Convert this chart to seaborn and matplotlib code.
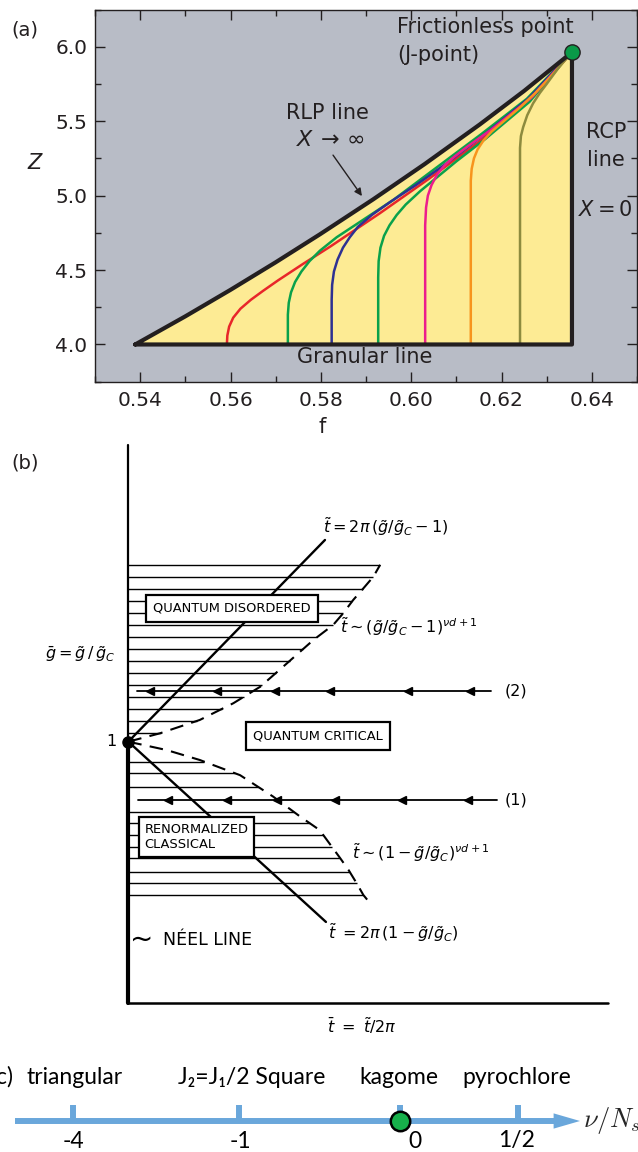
import numpy as np
import pandas as pd
import matplotlib
matplotlib.use("Agg")
import matplotlib.pyplot as plt
from matplotlib.ticker import MultipleLocator, FormatStrFormatter
import seaborn as sns

sns.set_style("ticks")
plt.rcParams['font.family'] = ['DejaVu Sans']
plt.rcParams['mathtext.fontset'] = 'dejavusans'

W, H = 638, 1152
fig = plt.figure(figsize=(W / 100, H / 100), dpi=100)


def fx(x):
    return x / W


def fy(y):
    return 1 - y / H


# ---------------- panel (a): jamming phase diagram ----------------
rlp_f = [0.5389, 0.5500, 0.5600, 0.5700, 0.5798, 0.5916, 0.6030, 0.6152, 0.6250, 0.6356]
rlp_z = [4.000, 4.189, 4.367, 4.552, 4.740, 4.975, 5.212, 5.478, 5.703, 5.963]
granular_z = 4.0
rcp_f = 0.6356
j_point_f = [0.6356]
j_point_z = [5.963]

red_f = [0.5592, 0.5593, 0.5597, 0.5606, 0.5622, 0.5645, 0.5672, 0.5705, 0.5760, 0.5822, 0.5930, 0.6038, 0.6150, 0.6253, 0.6354]
red_z = [4.00, 4.06, 4.12, 4.18, 4.24, 4.30, 4.36, 4.43, 4.54, 4.66, 4.88, 5.11, 5.36, 5.62, 5.958]
green_f = [0.5727, 0.5727, 0.5729, 0.5734, 0.5743, 0.5757, 0.5775, 0.5798, 0.5835, 0.5890, 0.5960, 0.6048, 0.6154, 0.6256, 0.6354]
green_z = [4.00, 4.20, 4.28, 4.35, 4.42, 4.49, 4.56, 4.63, 4.72, 4.83, 4.97, 5.17, 5.41, 5.65, 5.958]
blue_f = [0.5824, 0.5824, 0.5825, 0.5829, 0.5837, 0.5849, 0.5864, 0.5882, 0.5913, 0.5955, 0.6010, 0.6080, 0.6158, 0.6259, 0.6354]
blue_z = [4.00, 4.30, 4.40, 4.49, 4.57, 4.65, 4.72, 4.79, 4.87, 4.96, 5.07, 5.22, 5.40, 5.65, 5.958]
green2_f = [0.5927, 0.5927, 0.5928, 0.5932, 0.5940, 0.5952, 0.5968, 0.5988, 0.6020, 0.6060, 0.6100, 0.6164, 0.6262, 0.6354]
green2_z = [4.00, 4.45, 4.56, 4.65, 4.73, 4.80, 4.87, 4.94, 5.03, 5.13, 5.23, 5.38, 5.63, 5.958]
magenta_f = [0.6031, 0.6031, 0.6033, 0.6037, 0.6045, 0.6057, 0.6073, 0.6095, 0.6125, 0.6176, 0.6267, 0.6354]
magenta_z = [4.00, 4.80, 4.92, 5.00, 5.07, 5.14, 5.20, 5.26, 5.33, 5.44, 5.66, 5.958]
orange_f = [0.6132, 0.6132, 0.6134, 0.6139, 0.6147, 0.6160, 0.6178, 0.6205, 0.6240, 0.6275, 0.6312, 0.6354]
orange_z = [4.00, 5.10, 5.18, 5.25, 5.31, 5.37, 5.43, 5.50, 5.59, 5.69, 5.81, 5.958]
olive_f = [0.6241, 0.6241, 0.6243, 0.6248, 0.6257, 0.6270, 0.6285, 0.6300, 0.6329, 0.6354]
olive_z = [4.00, 5.32, 5.40, 5.46, 5.54, 5.62, 5.69, 5.75, 5.87, 5.958]

curves = {
    'red': (red_f, red_z), 'green': (green_f, green_z), 'blue': (blue_f, blue_z),
    'green2': (green2_f, green2_z), 'magenta': (magenta_f, magenta_z),
    'orange': (orange_f, orange_z), 'olive': (olive_f, olive_z),
}
curve_colors = {'red': '#e8262a', 'green': '#0aa14b', 'blue': '#2e3192', 'green2': '#0aa14b',
                'magenta': '#ec1d8c', 'orange': '#f7941d', 'olive': '#8d8b3e'}

df = pd.concat([pd.DataFrame({'f': f, 'Z': z, 'curve': name}) for name, (f, z) in curves.items()],
               ignore_index=True)

dark = '#231f20'
ax_a = fig.add_axes([fx(95), fy(381.7), (637 - 95) / W, (381.7 - 9.5) / H])
ax_a.set_facecolor('#b8bcc6')
ax_a.fill_between(rlp_f, granular_z, rlp_z, color='#fdeb94', lw=0, zorder=1)
sns.lineplot(data=df, x='f', y='Z', hue='curve', palette=curve_colors, sort=False,
             estimator=None, legend=False, lw=1.8, ax=ax_a, zorder=3)
ax_a.plot(rlp_f + [rcp_f, rlp_f[0]], rlp_z + [granular_z, granular_z], color=dark, lw=3,
          solid_joinstyle='round', solid_capstyle='round', zorder=4)
ax_a.plot(j_point_f, j_point_z, 'o', ms=11, mfc='#0a9a48', mec=dark, mew=1, zorder=5, clip_on=False)

ax_a.set_xlim(0.53, 0.65)
ax_a.set_ylim(3.75, 6.25)
ax_a.xaxis.set_major_locator(MultipleLocator(0.02))
ax_a.xaxis.set_minor_locator(MultipleLocator(0.01))
ax_a.xaxis.set_major_formatter(FormatStrFormatter('%.2f'))
ax_a.yaxis.set_major_locator(MultipleLocator(0.5))
ax_a.yaxis.set_minor_locator(MultipleLocator(0.25))
ax_a.yaxis.set_major_formatter(FormatStrFormatter('%.1f'))
ax_a.tick_params(which='both', direction='in', top=True, right=True, color=dark,
                 labelcolor=dark, labelsize=14.5, width=1)
ax_a.tick_params(which='major', length=7)
ax_a.tick_params(which='minor', length=4)
ax_a.tick_params(axis='x', pad=7)
ax_a.tick_params(axis='y', pad=5.5)
for s in ax_a.spines.values():
    s.set_color(dark)
    s.set_linewidth(1)
ax_a.set_xlabel('f', fontsize=15, color=dark)
ax_a.xaxis.set_label_coords(0.419, -0.095)
ax_a.set_ylabel('Z', fontsize=15, fontstyle='italic', color=dark, rotation=0, va='center', ha='center')
ax_a.yaxis.set_label_coords(-0.111, 0.588)

txt = dict(fontsize=15, color=dark)
ax_a.text(0.5969, 6.132, 'Frictionless point', ha='left', va='center', **txt)
ax_a.text(0.5969, 5.944, '(J-point)', ha='left', va='center', **txt)
ax_a.text(0.5814, 5.554, 'RLP line', ha='center', va='center', **txt)
ax_a.text(0.5822, 5.373, r'$X\,\rightarrow\,\infty$', ha='center', va='center', fontsize=16, color=dark)
ax_a.text(0.6431, 5.427, 'RCP', ha='center', va='center', **txt)
ax_a.text(0.6431, 5.239, 'line', ha='center', va='center', **txt)
ax_a.text(0.6431, 4.902, r'$X = 0$', ha='center', va='center', **txt)
ax_a.text(0.5898, 3.915, 'Granular line', ha='center', va='center', **txt)
ax_a.annotate('', xy=(0.5891, 4.997), xytext=(0.5827, 5.272),
              arrowprops=dict(arrowstyle='-|>', color=dark, lw=1, mutation_scale=11,
                              shrinkA=0, shrinkB=0))
fig.text(fx(25), fy(30), '(a)', ha='center', va='center', fontsize=14, color=dark)

# ---------------- panel (b): quantum critical crossover ----------------
critical_g = 1.0
upper_solid_t = [0.0, 0.410]
upper_solid_g = [1.0, 1.771]
lower_solid_t = [0.0, 0.412]
lower_solid_g = [1.0, 0.311]
upper_dash_t = [0.0, 0.066, 0.149, 0.219, 0.275, 0.323, 0.386, 0.427, 0.448, 0.469, 0.490, 0.511, 0.525]
upper_dash_g = [1.0, 1.032, 1.083, 1.147, 1.210, 1.287, 1.389, 1.446, 1.491, 1.542, 1.586, 1.631, 1.676]
lower_dash_t = [0.0, 0.080, 0.149, 0.233, 0.302, 0.358, 0.399, 0.442, 0.459, 0.476, 0.490, 0.507]
lower_dash_g = [1.0, 0.968, 0.930, 0.872, 0.790, 0.714, 0.662, 0.554, 0.510, 0.459, 0.414, 0.376]
upper_hatch_g = [1.676, 1.630, 1.584, 1.538, 1.492, 1.446, 1.400, 1.355, 1.309, 1.263, 1.217,
                 1.171, 1.125, 1.079, 1.033]
lower_hatch_g = [0.924, 0.879, 0.828, 0.732, 0.688, 0.643, 0.599, 0.554, 0.503, 0.459, 0.414]
flow2_g, flow2_t = 1.195, [0.018, 0.757]
flow2_heads = [0.045, 0.184, 0.306, 0.420, 0.583, 0.712]
flow1_g, flow1_t = 0.777, [0.021, 0.768]
flow1_heads = [0.083, 0.205, 0.309, 0.430, 0.570, 0.708]

ax_b = fig.add_axes([fx(128.3), fy(1003.3), (608 - 128.3) / W, (1003.3 - 445) / H])
ax_b.set_xlim(0, 1)
ax_b.set_ylim(0, 2.134)
ax_b.axis('off')

up_end = np.interp(upper_hatch_g, upper_dash_g, upper_dash_t)
lo_end = np.interp(lower_hatch_g, lower_dash_g[::-1], lower_dash_t[::-1])
ax_b.hlines(upper_hatch_g, 0, up_end, color='k', lw=1.0)
ax_b.hlines(lower_hatch_g, 0, lo_end, color='k', lw=1.0)

ax_b.plot(upper_solid_t, upper_solid_g, color='k', lw=1.7)
ax_b.plot(lower_solid_t, lower_solid_g, color='k', lw=1.7)
ax_b.plot(upper_dash_t, upper_dash_g, color='k', lw=1.5, ls=(0, (6.5, 4)))
ax_b.plot(lower_dash_t, lower_dash_g, color='k', lw=1.5, ls=(0, (6.5, 4)))

ax_b.plot(flow2_t, [flow2_g] * 2, color='k', lw=1.3)
ax_b.plot(flow2_heads, [flow2_g] * len(flow2_heads), ls='none', marker='<', ms=6, color='k')
ax_b.plot(flow1_t, [flow1_g] * 2, color='k', lw=1.3)
ax_b.plot(flow1_heads, [flow1_g] * len(flow1_heads), ls='none', marker='<', ms=6, color='k')

ax_b.plot([0, 0], [critical_g, 2.134], color='k', lw=1.6, clip_on=False)
ax_b.plot([0, 0], [0, critical_g], color='k', lw=3, clip_on=False)
ax_b.plot([0, 1], [0, 0], color='k', lw=1.8, clip_on=False)
ax_b.plot([0], [critical_g], 'o', ms=8, color='k', clip_on=False, zorder=5)

box = dict(boxstyle='square,pad=0.55', fc='white', ec='k', lw=1.6)
boxfont = dict(fontsize=9.4, color='k')
ax_b.text(0.216, 1.510, 'QUANTUM DISORDERED', ha='center', va='center', bbox=box, zorder=6, **boxfont)
ax_b.text(0.396, 1.022, 'QUANTUM CRITICAL', ha='center', va='center', bbox=box, zorder=6, **boxfont)
ax_b.text(0.034, 0.636, 'RENORMALIZED\nCLASSICAL', ha='left', va='center',
          bbox=dict(boxstyle='square,pad=0.45', fc='white', ec='k', lw=1.6),
          linespacing=1.15, zorder=6, **boxfont)

mt = dict(fontsize=11.5, color='k')
ax_b.text(0.406, 1.824, r'$\tilde{t}=2\pi\,(\tilde{g}/\tilde{g}_C-1)$', ha='left', va='center', **mt)
ax_b.text(0.441, 1.440, r'$\tilde{t}\sim(\tilde{g}/\tilde{g}_C-1)^{\nu d+1}$', ha='left', va='center', **mt)
ax_b.text(0.808, flow2_g, '(2)', ha='center', va='center', **mt)
ax_b.text(0.808, flow1_g, '(1)', ha='center', va='center', **mt)
ax_b.text(0.466, 0.575, r'$\tilde{t}\sim(1-\tilde{g}/\tilde{g}_C)^{\nu d+1}$', ha='left', va='center', **mt)
ax_b.text(0.416, 0.269, r'$\tilde{t}\ =2\pi\,(1-\tilde{g}/\tilde{g}_C)$', ha='left', va='center', **mt)
ax_b.text(0.003, 0.242, '~', ha='left', va='center', fontsize=20, color='k')
ax_b.text(0.073, 0.242, 'NÉEL LINE', ha='left', va='center', fontsize=12.5, color='k')
ax_b.text(0.414, -0.083, r'$\bar{t}\ =\ \tilde{t}/2\pi$', ha='left', va='center', **mt)
fig.text(fx(80), fy(654), r'$\bar{g}=\tilde{g}\,/\,\tilde{g}_C$', ha='center', va='center', **mt)
fig.text(fx(111), fy(742), '1', ha='center', va='center', **mt)
fig.text(fx(25), fy(463), '(b)', ha='center', va='center', fontsize=14, color=dark)

# ---------------- panel (c): number line ----------------
c_names = ['triangular', 'J₂=J₁/2 Square', 'kagome', 'pyrochlore']
c_values = ['-4', '-1', '0', '1/2']
c_pos = [73, 239, 400, 518]   # schematic positions along the line
kagome_pos = [400]

blue_c = '#6aa7db'
ax_c = fig.add_axes([0, 0, 1, 110 / H])
ax_c.set_xlim(0, W)
ax_c.set_ylim(1152, 1042)
ax_c.axis('off')
line_y = 1121
ax_c.plot([15, 556], [line_y, line_y], color=blue_c, lw=4.3, solid_capstyle='butt')
ax_c.annotate('', xy=(580, line_y), xytext=(550, line_y),
              arrowprops=dict(arrowstyle='-|>,head_length=1.9,head_width=0.55', color=blue_c,
                              lw=0, mutation_scale=10, shrinkA=0, shrinkB=0))
ax_c.vlines(c_pos, 1105, line_y, color=blue_c, lw=4.3)
ax_c.plot(kagome_pos, [line_y], 'o', ms=14, mfc='#17b04b', mec='k', mew=1.8, zorder=5)

cfont = dict(family=['Lato', 'DejaVu Sans'], fontsize=16.5, color='k')
name_x = [75, 252, 399, 517]
value_x = [73, 240, 415, 517]
for nx, name in zip(name_x, c_names):
    ax_c.text(nx, 1077, name, ha='center', va='center', **cfont)
for vx, val in zip(value_x, c_values):
    ax_c.text(vx, 1141, val, ha='center', va='center', **cfont)
ax_c.text(583, line_y, r'$\nu/N_s$', ha='left', va='center', fontsize=19, math_fontfamily='cm')
fig.text(fx(13), fy(1077), '(c)', ha='right', va='center', **cfont)

fig.savefig('out.png', dpi=100)
